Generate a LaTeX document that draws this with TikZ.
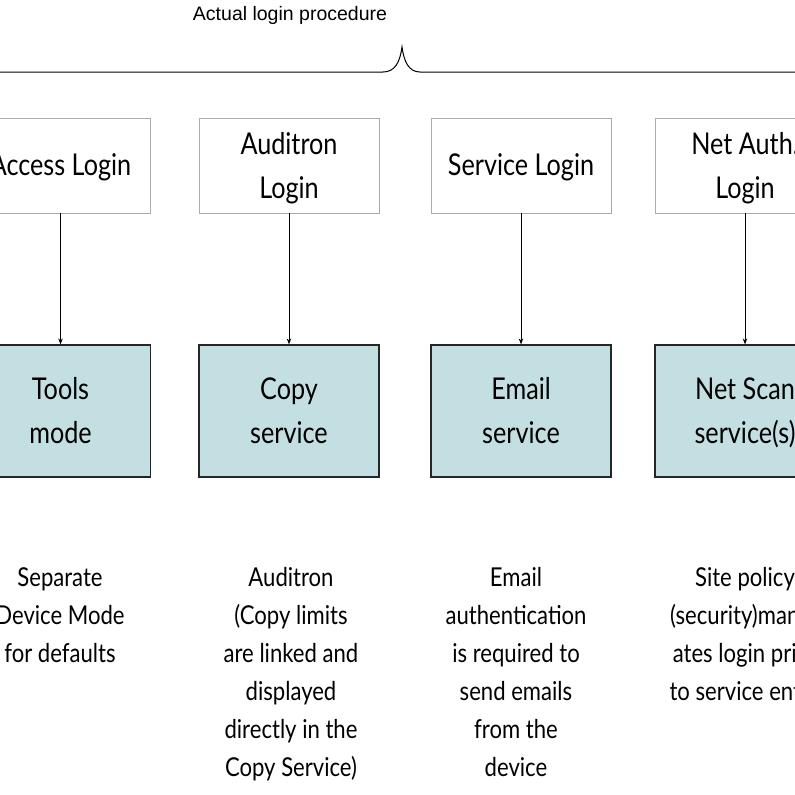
\documentclass[tikz,border=0pt]{standalone}
\usepackage{fontspec}
\setmainfont{Liberation Sans}
\newfontfamily\condfont[FakeStretch=0.84]{Lato}
\newfontfamily\descfont[FakeStretch=0.85]{Lato}
\usetikzlibrary{arrows.meta}
\definecolor{tealfill}{HTML}{C3DFE1}
\definecolor{graybd}{HTML}{ABABAB}
\tikzset{
  loginbox/.style={draw=graybd, line width=0.8pt, fill=white, minimum width=180pt, minimum height=95pt, inner sep=0pt},
  servbox/.style={draw=black!85, line width=1.2pt, fill=tealfill, minimum width=180pt, minimum height=132pt, inner sep=0pt},
  boxtext/.style={align=center, font=\condfont\fontsize{30}{44}\selectfont, inner sep=0pt},
  desc/.style={align=center, font=\descfont\fontsize{26}{38}\selectfont, inner sep=0pt, anchor=north},
  conn/.style={-{Stealth[length=6pt,width=4.5pt]}, line width=0.8pt},
}
\begin{document}
\begin{tikzpicture}[x=1pt,y=-1pt]
\useasboundingbox (0,0) rectangle (795,795);
\clip (0,0) rectangle (795,795);
\node[font=\fontsize{19.5}{22}\selectfont, inner sep=0pt] (title) at (290,15) {Actual login procedure};
\draw[line width=1pt] (0,72) -- (383,72) .. controls (395,72) and (400,62) .. (402,47) .. controls (404,62) and (409,72) .. (420,72) -- (795,72);

\node[loginbox] (l1) at (60.5,165.5) {};
\node[loginbox] (l2) at (289,165.5) {};
\node[loginbox] (l3) at (521,165.5) {};
\node[loginbox] (l4) at (745,165.5) {};
\node[boxtext] (t1) at ([yshift=-2pt]l1.center) {Access Login};
\node[boxtext] (t2) at ([yshift=-3pt]l2.center) {Auditron\\Login};
\node[boxtext] (t3) at ([yshift=-2pt]l3.center) {Service Login};
\node[boxtext] (t4) at ([yshift=-3pt]l4.center) {Net Auth.\\Login};

\node[servbox] (s1) at (60.5,411) {};
\node[servbox] (s2) at (289,411) {};
\node[servbox] (s3) at (521,411) {};
\node[servbox] (s4) at (745,411) {};
\node[boxtext] (u1) at (s1.center) {Tools\\mode};
\node[boxtext] (u2) at (s2.center) {Copy\\service};
\node[boxtext] (u3) at (s3.center) {Email\\service};
\node[boxtext] (u4) at ([yshift=-1.5pt]s4.center) {Net Scan\\service(s)};

\draw[conn] (l1.south -| s1) -- (s1);
\draw[conn] (l2.south -| s2) -- (s2);
\draw[conn] (l3.south -| s3) -- (s3);
\draw[conn] (l4.south -| s4) -- (s4);

\node[desc] (d1) at (60,567) {Separate\\Device Mode\\for defaults};
\node[desc] (d2) at (291,567) {Auditron\\(Copy limits\\are linked and\\displayed\\directly in the\\Copy Service)};
\node[desc] (d3) at (516,567) {Email\\authentication\\is required to\\send emails\\from the\\device};
\node[desc] (d4) at (745,567) {Site policy\\(security)mand-\\ates login prior\\to service entry};
\end{tikzpicture}
\end{document}
